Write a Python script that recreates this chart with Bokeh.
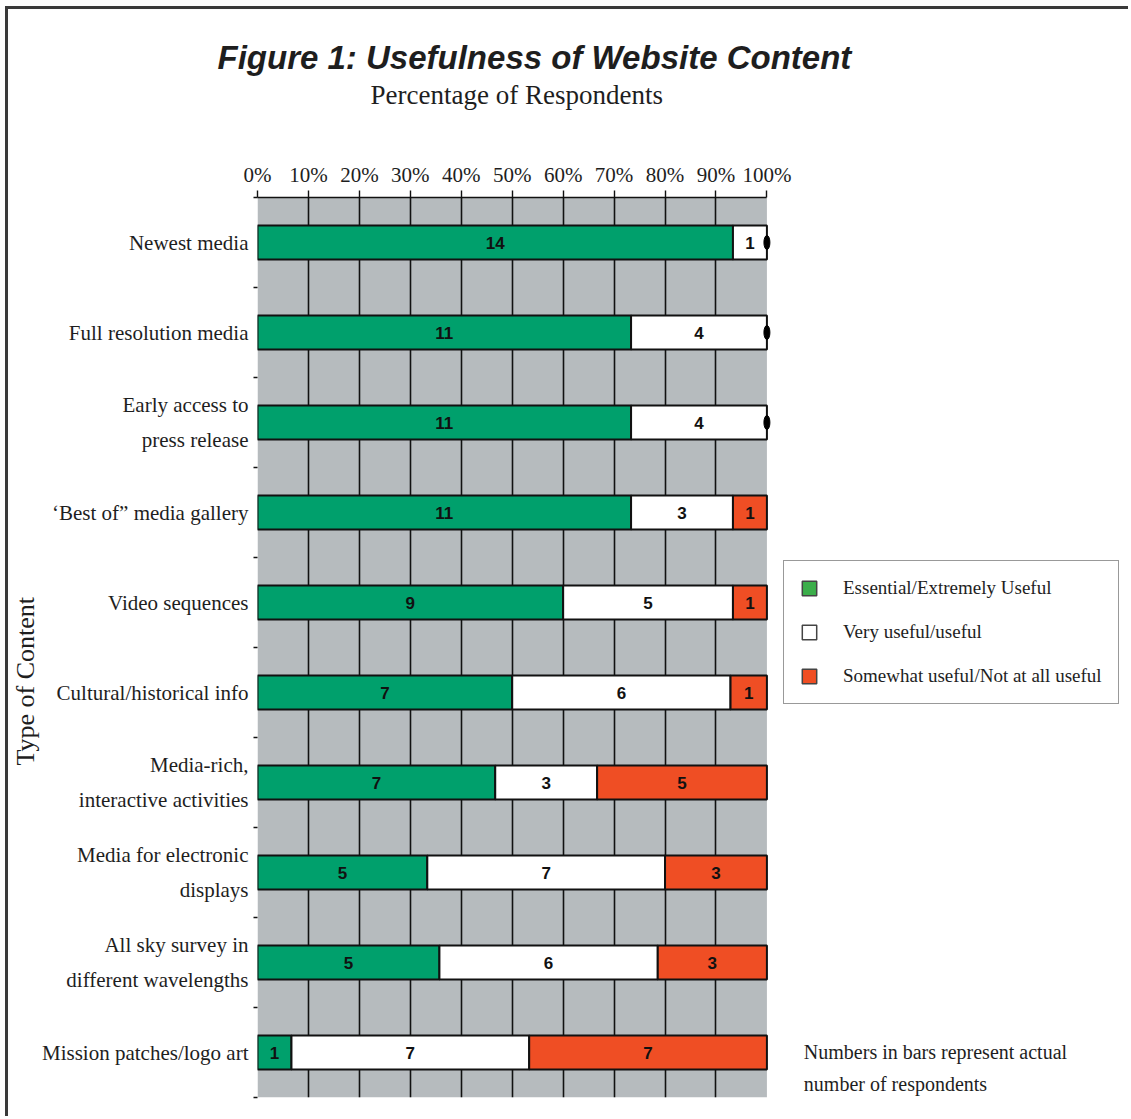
from bokeh.plotting import figure
from bokeh.models import (Range1d, FixedTicker, ColumnDataSource, Title, Legend,
                          LegendItem, Label, BoxAnnotation)
from bokeh.core.properties import value
from bokeh.embed import file_html
from bokeh.resources import INLINE

# ---------------- data ----------------
categories = [
    "Newest media",
    "Full resolution media",
    "Early access to\npress release",
    "\u2018Best of\u201d media gallery",
    "Video sequences",
    "Cultural/historical info",
    "Media-rich,\ninteractive activities",
    "Media for electronic\ndisplays",
    "All sky survey in\ndifferent wavelengths",
    "Mission patches/logo art",
]
essential = [14, 11, 11, 11, 9, 7, 7, 5, 5, 1]
useful = [1, 4, 4, 3, 5, 6, 3, 7, 6, 7]
not_useful = [0, 0, 0, 1, 1, 1, 5, 3, 3, 7]
series_names = ["Essential/Extremely Useful", "Very useful/useful",
                "Somewhat useful/Not at all useful"]
bar_colors = ["#00a06c", "#ffffff", "#ef4e24"]
legend_colors = ["#3bae4a", "#ffffff", "#f04e23"]
tick_values = [0, 10, 20, 30, 40, 50, 60, 70, 80, 90, 100]
tick_labels = ["0%", "10%", "20%", "30%", "40%", "50%", "60%", "70%", "80%", "90%", "100%"]
title_text = "Figure 1: Usefulness of Website Content"
subtitle_text = "Percentage of Respondents"
yaxis_title = "Type of Content"
note_lines = ["Numbers in bars represent actual", "number of respondents"]

# ---------------- geometry (pixels) ----------------
FIG_W, FIG_H = 1123, 1110
BORDER_L, BORDER_T, BORDER_B = 248, 188, 22
PLOT_W = 510            # pixel width of the 0-100 % scale
FRAME_W = FIG_W - BORDER_L
x_max = 100.0 * FRAME_W / PLOT_W

# ---------------- build segments ----------------
series = [essential, useful, not_useful]
seg = dict(y=[], left=[], right=[], color=[], mid=[], label=[])
zero = dict(x=[], y=[])
for i in range(len(categories)):
    total = sum(s[i] for s in series)
    cum = 0.0
    for k, s in enumerate(series):
        start = cum / total * 100.0
        cum += s[i]
        end = cum / total * 100.0
        yc = i + 0.5
        if s[i] > 0:
            seg["y"].append(yc)
            seg["left"].append(start)
            seg["right"].append(end)
            seg["color"].append(bar_colors[k])
            seg["mid"].append((start + end) / 2.0)
            seg["label"].append(str(s[i]))
        else:
            zero["x"].append(end)
            zero["y"].append(yc)

seg_src = ColumnDataSource(seg)
zero_src = ColumnDataSource(zero)

centers = [i + 0.5 for i in range(len(categories))]
bounds = [float(i) for i in range(len(categories) + 1)]

p = figure(width=FIG_W, height=FIG_H, output_backend="svg", toolbar_location=None,
           x_range=Range1d(0, x_max), y_range=Range1d(len(categories), 0),
           x_axis_location="above", title=None,
           min_border_left=BORDER_L, min_border_right=0, min_border_top=BORDER_T,
           min_border_bottom=BORDER_B)
p.styles = {"border-left": "3px solid #3a3a3a", "border-top": "3px solid #3a3a3a",
            "margin-left": "5px", "margin-top": "6px"}

p.background_fill_color = "white"
p.outline_line_color = None
p.border_fill_color = "white"

# gray plotting area (0 - 100 %)
p.add_layout(BoxAnnotation(left=tick_values[0], right=tick_values[-1],
                           fill_color="#b6bbbe", fill_alpha=1.0, line_color=None,
                           level="image"))

# grid
p.xgrid.ticker = FixedTicker(ticks=tick_values[1:-1])
p.xgrid.grid_line_color = "#111111"
p.xgrid.grid_line_width = 1.6
p.ygrid.grid_line_color = None

# x axis (top)
xa = p.xaxis[0]
xa.bounds = (tick_values[0], tick_values[-1])
xa.ticker = FixedTicker(ticks=tick_values)
xa.major_label_overrides = {v: t for v, t in zip(tick_values, tick_labels)}
xa.major_tick_out = 7
xa.major_tick_in = 0
xa.minor_tick_line_color = None
xa.axis_line_color = "#111111"
xa.axis_line_width = 1.6
xa.major_tick_line_color = "#111111"
xa.major_tick_line_width = 1.4
xa.major_label_standoff = 4
xa.major_label_text_font = "Liberation Serif"
xa.major_label_text_font_size = "21px"
xa.major_label_text_color = "#1e1e1e"
# blank axis label only reserves vertical room under the subtitle
xa.axis_label = " "
xa.axis_label_text_font = "Liberation Serif"
xa.axis_label_text_font_size = "25px"
xa.axis_label_standoff = 20

# y axis (left)
ya = p.yaxis[0]
ya.ticker = FixedTicker(ticks=centers, minor_ticks=bounds)
ya.major_label_overrides = {c: t for c, t in zip(centers, categories)}
ya.major_tick_line_color = None
ya.major_tick_out = 0
ya.major_tick_in = 0
ya.minor_tick_out = 4
ya.minor_tick_in = 0
ya.minor_tick_line_color = "#111111"
ya.minor_tick_line_width = 1.4
ya.axis_line_color = None
ya.axis_label_standoff = 0
ya.major_label_standoff = 5
ya.major_label_text_font = "Liberation Serif"
ya.major_label_text_font_size = "21px"
ya.major_label_text_color = "#1e1e1e"
ya.major_label_text_line_height = 1.48

# bars
p.hbar(y="y", left="left", right="right", height=0.38, fill_color="color",
       line_color="#111111", line_width=2, source=seg_src)
p.text(x="mid", y="y", text="label", source=seg_src, text_align="center",
       text_baseline="middle", text_font=value("Liberation Sans"),
       text_font_style="bold", text_font_size="17px", text_color="#111111")
p.ellipse(x="x", y="y", width=6, height=14, width_units="screen",
          height_units="screen", fill_color="#000000", line_color="#000000",
          source=zero_src)

# legend (swatch renderers, not drawn in the plot)
nan = float("nan")
items = []
for name, col in zip(series_names, legend_colors):
    r = p.rect(x=[nan], y=[nan], width=1, height=1, fill_color=col,
               line_color="#444444", line_width=1.5)
    items.append(LegendItem(label=name, renderers=[r]))
legend = Legend(items=items, location=(526, 393), glyph_width=18, glyph_height=18,
                label_text_font="Liberation Serif", label_text_font_size="19px",
                label_text_color="#1e1e1e", label_standoff=25, label_height=20,
                spacing=22, padding=16, border_line_color="#333333",
                border_line_width=1.5, background_fill_color="white",
                background_fill_alpha=1.0, margin=0)
p.add_layout(legend)

# subtitle and main title
sub = Title(text=subtitle_text, align="left", offset=113, text_font="Liberation Serif",
            text_font_size="27px", text_font_style="normal", text_color="#1e1e1e",
            standoff=0)
p.add_layout(sub, "above")
main = Title(text=title_text, align="left", offset=-40, text_font="Liberation Sans",
             text_font_size="33px", text_font_style="bold italic", text_color="#1e1e1e",
             standoff=4)
p.add_layout(main, "above")

# y title
ytitle = Title(text=yaxis_title, align="left", offset=332, text_font="Liberation Serif",
               text_font_size="26px", text_font_style="normal", text_color="#1e1e1e",
               standoff=0, text_line_height=1.0)
p.add_layout(ytitle, "left")

# note
note_y = [9.49, 9.845]
for line, ny in zip(note_lines, note_y):
    p.add_layout(Label(x=107.25, y=ny, text=line,
                       text_font="Liberation Serif", text_font_size="20px",
                       text_color="#1e1e1e", text_baseline="alphabetic"))

open("out.html", "w").write(file_html(p, INLINE))
